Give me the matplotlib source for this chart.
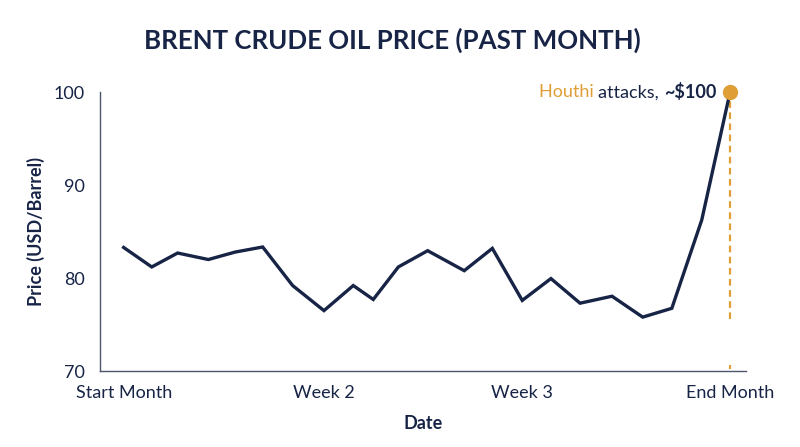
import matplotlib
matplotlib.use("Agg")
import matplotlib.pyplot as plt
from matplotlib.transforms import offset_copy

# values (x in days since start of month)
days = [0.0, 1.39, 2.67, 4.19, 5.51, 6.88, 8.36, 9.91, 11.36, 12.35, 13.59,
        15.04, 16.85, 18.24, 19.72, 21.14, 22.58, 24.16, 25.68, 27.12, 28.60, 30.0]
price = [83.3, 81.2, 82.7, 82.0, 82.8, 83.35, 79.2, 76.5, 79.2, 77.7, 81.2,
         82.95, 80.8, 83.2, 77.6, 79.95, 77.3, 78.05, 75.8, 76.75, 86.25, 100.0]
tick_idx = [0, 7, 14, 21]
tick_labels = ["Start Month", "Week 2", "Week 3", "End Month"]

NAVY = "#172446"
ORANGE = "#e09f36"
SPINE = "#4b566b"

plt.rcParams["font.family"] = ["Lato", "DejaVu Sans"]

fig = plt.figure(figsize=(8, 4.47), dpi=100)
ax = fig.add_axes([0.125, 0.170, 0.8075, 0.6235])

ax.plot(days, price, color=NAVY, lw=2.4, solid_joinstyle="miter", zorder=3)

# highlight final point
ax.vlines(days[-1], 75.6, price[-1], colors=ORANGE, linestyles=(0, (3, 2)), lw=1.6, zorder=2)
ax.vlines(days[-1], 70.25, 70.6, colors=ORANGE, lw=1.6, zorder=2)
ax.plot(days[-1], price[-1], "o", color=ORANGE, ms=10, zorder=4, clip_on=False)

ax.set_xlim(-1.17, 30.79)
ax.set_ylim(70, 100)
ax.set_yticks([70, 80, 90, 100])
ax.set_xticks([days[i] for i in tick_idx])
ax.set_xticklabels(tick_labels)
ax.tick_params(length=0, labelsize=13, labelcolor=NAVY)
ax.tick_params(axis="x", pad=10)
ax.tick_params(axis="y", pad=11)

for s in ["top", "right"]:
    ax.spines[s].set_visible(False)
for s in ["left", "bottom"]:
    ax.spines[s].set_color(SPINE)
    ax.spines[s].set_linewidth(1.0)

ax.set_xlabel("Date", fontsize=13, color=NAVY, fontweight="bold", labelpad=10)
ax.set_ylabel("Price (USD/Barrel)", fontsize=13, color=NAVY, fontweight="bold", labelpad=6)

fig.text(0.49, 0.91, "BRENT CRUDE OIL PRICE (PAST MONTH)", ha="center", va="center",
         fontsize=18.6, fontweight="bold", color=NAVY)

# multi-coloured annotation, built right to left
fig.canvas.draw()
r = fig.canvas.get_renderer()
tr = offset_copy(ax.transData, fig=fig, x=-14, y=0, units="dots")
t3 = ax.text(days[-1], price[-1], "~$100", transform=tr, ha="right", va="center",
             fontsize=13, fontweight="bold", color=NAVY)
w3 = t3.get_window_extent(r).width
tr2 = offset_copy(ax.transData, fig=fig, x=-14 - w3, y=0, units="dots")
t2 = ax.text(days[-1], price[-1], "attacks, ", transform=tr2, ha="right", va="center",
             fontsize=13, color=NAVY)
w2 = t2.get_window_extent(r).width
tr1 = offset_copy(ax.transData, fig=fig, x=-14 - w3 - w2, y=0, units="dots")
ax.text(days[-1], price[-1], "Houthi ", transform=tr1, ha="right", va="center",
        fontsize=13, color=ORANGE)

fig.savefig("out.png", dpi=100)
